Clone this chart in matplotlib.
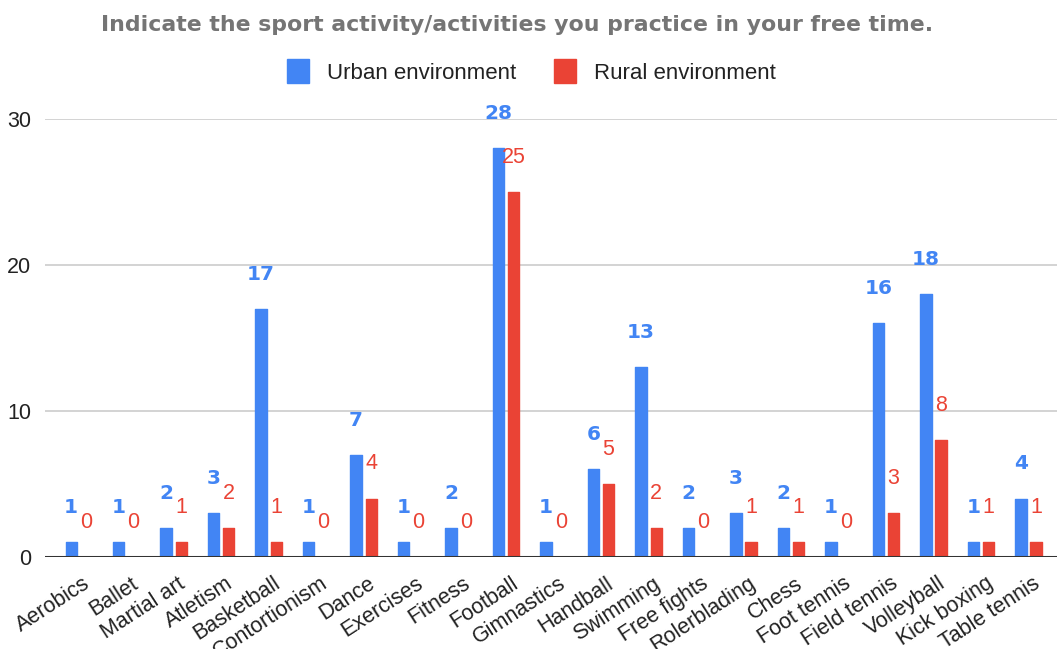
import numpy as np
import matplotlib
matplotlib.use("Agg")
import matplotlib.pyplot as plt
from matplotlib.transforms import ScaledTranslation

plt.rcParams["font.family"] = ["Liberation Sans", "DejaVu Sans"]

sports = ["Aerobics", "Ballet", "Martial art", "Atletism", "Basketball", "Contortionism",
          "Dance", "Exercises", "Fitness", "Football", "Gimnastics", "Handball", "Swimming",
          "Free fights", "Rolerblading", "Chess", "Foot tennis", "Field tennis", "Volleyball",
          "Kick boxing", "Table tennis"]
urban = [1, 1, 2, 3, 17, 1, 7, 1, 2, 28, 1, 6, 13, 2, 3, 2, 1, 16, 18, 1, 4]
rural = [0, 0, 1, 2, 1, 0, 4, 0, 0, 25, 0, 5, 2, 0, 1, 1, 0, 3, 8, 1, 1]

BLUE = "#4285F4"; RED = "#EA4335"
x = np.arange(len(sports)); w = 0.232; off = 0.158

fig = plt.figure(figsize=(10.57, 6.49), dpi=100)
ax = fig.add_axes([0.0426, 0.1418, 0.9574, 0.6748])
ax.bar(x - off, urban, w, color=BLUE, edgecolor=BLUE, lw=1, joinstyle="round", zorder=3)
ax.bar(x + off, rural, w, color=RED, edgecolor=RED, lw=1, joinstyle="round", zorder=3)

# value labels sit a fixed distance above each bar
for i in x:
    ax.annotate(str(urban[i]), (i - off, urban[i]), xytext=(0, 25), textcoords="offset points",
                ha="center", va="center", color=BLUE, fontsize=14.5, fontweight="bold",
                family="DejaVu Sans", annotation_clip=False, zorder=5)
    ax.annotate(str(rural[i]), (i + off, rural[i]), xytext=(0, 25), textcoords="offset points",
                ha="center", va="center", color=RED, fontsize=15.5,
                annotation_clip=False, zorder=5)

ax.set_xlim(-0.705, 20.6); ax.set_ylim(0, 30)
ax.set_yticks([0, 10, 20, 30])
ax.grid(axis="y", color="#cccccc", lw=1.2, zorder=0)
ax.axhline(0, color="#333333", lw=2.2, zorder=4)
for s in ax.spines.values(): s.set_visible(False)
ax.tick_params(axis="y", length=0, labelsize=15.5, labelcolor="#222222", pad=10)
ax.tick_params(axis="x", length=0)
ax.set_xticks(x)
ax.set_xticklabels(sports, rotation=33, ha="right", va="center", rotation_mode="anchor",
                   fontsize=15.5, color="#222222")
for lb in ax.get_xticklabels():
    lb.set_transform(lb.get_transform() + ScaledTranslation(0.1, -0.2, fig.dpi_scale_trans))

fig.text(0.489, 0.962, "Indicate the sport activity/activities you practice in your free time.",
         ha="center", va="center", fontsize=15.8, fontweight="bold", color="#757575",
         family="DejaVu Sans")
handles = [plt.Rectangle((0, 0), 1, 1, color=BLUE), plt.Rectangle((0, 0), 1, 1, color=RED)]
fig.legend(handles, ["Urban environment", "Rural environment"], loc="center",
           bbox_to_anchor=(0.503, 0.89), ncol=2, frameon=False, fontsize=16,
           handlelength=1.0, handleheight=1.3, handletextpad=0.8, columnspacing=1.7,
           labelcolor="#222222")

fig.savefig("out.png", dpi=100)
